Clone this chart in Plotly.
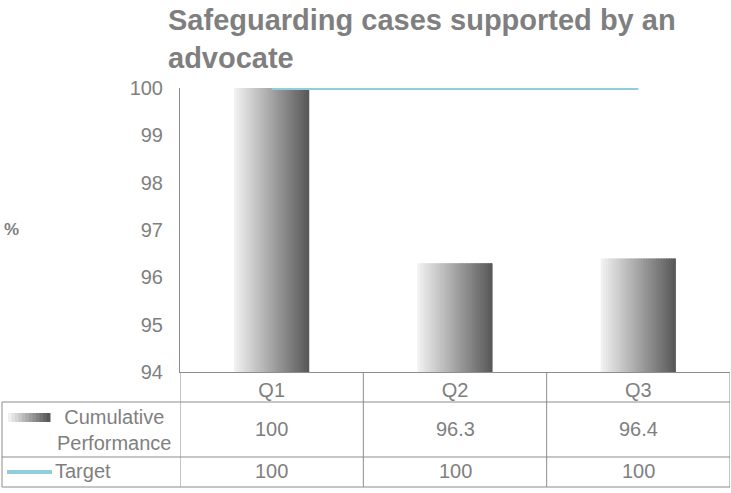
import plotly.graph_objects as go

quarters = ["Q1", "Q2", "Q3"]
performance = [100, 96.3, 96.4]
target = [100, 100, 100]
y_ticks = [94, 95, 96, 97, 98, 99, 100]

W, H = 731, 493
L, R, T, B = 180, 1, 88, 121          # plot area: x 180..730, y 88..372
PW, PH = W - L - R, H - T - B

GREY_TXT = "#7f7f7f"
RULE = "#8c8c8c"
BLUE = "#92cddc"
FONT = "Liberation Sans, Arial, sans-serif"


def px(x):
    return (x - L) / PW


def py(y):
    return (H - B - y) / PH


def shade(t):
    a, b = 0xf0, 0x59
    v = round(a + (b - a) * t)
    return f"rgb({v},{v},{v})"


fig = go.Figure()

# gradient bars built from thin vertical strips
N = 30
BW = 0.41
step = BW / N
for i in range(N):
    fig.add_trace(go.Bar(
        x=quarters, y=performance,
        offset=-BW / 2 + i * step,
        width=step * (1.6 if i < N - 1 else 1),
        marker=dict(color=shade(i / (N - 1)), line=dict(width=0)),
        showlegend=False, hoverinfo="skip",
    ))

fig.add_trace(go.Scatter(
    x=quarters, y=target, mode="lines",
    line=dict(color=BLUE, width=4),
    cliponaxis=False, showlegend=False,
))

shapes = []
# data table grid
for xv in [-0.5, 0.5, 1.5, 2.5]:
    shapes.append(dict(type="line", xref="x", yref="paper",
                       x0=xv, x1=xv, y0=py(372), y1=py(487),
                       line=dict(color=RULE, width=1)))
for yv in [402, 457, 487]:
    shapes.append(dict(type="line", xref="paper", yref="paper",
                       x0=px(2), x1=px(730), y0=py(yv), y1=py(yv),
                       line=dict(color=RULE, width=1)))
shapes.append(dict(type="line", xref="paper", yref="paper",
                   x0=px(2), x1=px(2), y0=py(402), y1=py(487),
                   line=dict(color=RULE, width=1)))
# legend keys inside the table
K = 12
for i in range(K):
    x0 = 8 + i * 42 / K
    shapes.append(dict(type="rect", xref="paper", yref="paper",
                       x0=px(x0), x1=px(x0 + 42 / K + 0.5), y0=py(422), y1=py(413),
                       fillcolor=shade(i / (K - 1)), line=dict(width=0)))
shapes.append(dict(type="line", xref="paper", yref="paper",
                   x0=px(7), x1=px(52), y0=py(472), y1=py(472),
                   line=dict(color=BLUE, width=4)))

tfont = dict(family=FONT, size=20, color=GREY_TXT)
annotations = [
    dict(text="<b>Safeguarding cases supported by an<br>advocate</b>",
         xref="paper", yref="paper", x=px(166), y=py(2),
         xanchor="left", yanchor="top", align="left", showarrow=False,
         font=dict(family=FONT, size=29, color=GREY_TXT)),
    dict(text="<b>%</b>", xref="paper", yref="paper", x=px(2), y=py(229),
         xanchor="left", yanchor="middle", showarrow=False,
         font=dict(family=FONT, size=17, color=GREY_TXT)),
    dict(text="Cumulative<br>Performance", xref="paper", yref="paper",
         x=px(114), y=py(430), xanchor="center", yanchor="middle",
         align="center", showarrow=False, font=tfont),
    dict(text="Target", xref="paper", yref="paper",
         x=px(53), y=py(471), xanchor="left", yanchor="middle",
         showarrow=False, font=tfont),
]
for q, p, t in zip(quarters, performance, target):
    annotations.append(dict(text=f"{p:g}", x=q, xref="x", yref="paper", y=py(429),
                            xanchor="center", yanchor="middle",
                            showarrow=False, font=tfont))
    annotations.append(dict(text=f"{t:g}", x=q, xref="x", yref="paper", y=py(471),
                            xanchor="center", yanchor="middle",
                            showarrow=False, font=tfont))

fig.update_layout(
    width=W, height=H,
    margin=dict(l=L, r=R, t=T, b=B),
    paper_bgcolor="white", plot_bgcolor="white",
    barmode="overlay",
    font=dict(family=FONT, color=GREY_TXT),
    showlegend=False,
    xaxis=dict(type="category", range=[-0.5, 2.5], showline=True,
               linecolor=RULE, linewidth=1, showgrid=False, zeroline=False,
               ticks="", tickfont=tfont),
    yaxis=dict(range=[94, 100], tickvals=y_ticks, showline=True,
               linecolor=RULE, linewidth=1, showgrid=False, zeroline=False,
               ticks="", tickfont=tfont, ticklabelstandoff=12),
    shapes=shapes,
    annotations=annotations,
)

fig.write_html(
    "out.html",
    config={"displayModeBar": False},
    post_script="document.body.style.margin='0';document.body.style.overflow='hidden';",
)
